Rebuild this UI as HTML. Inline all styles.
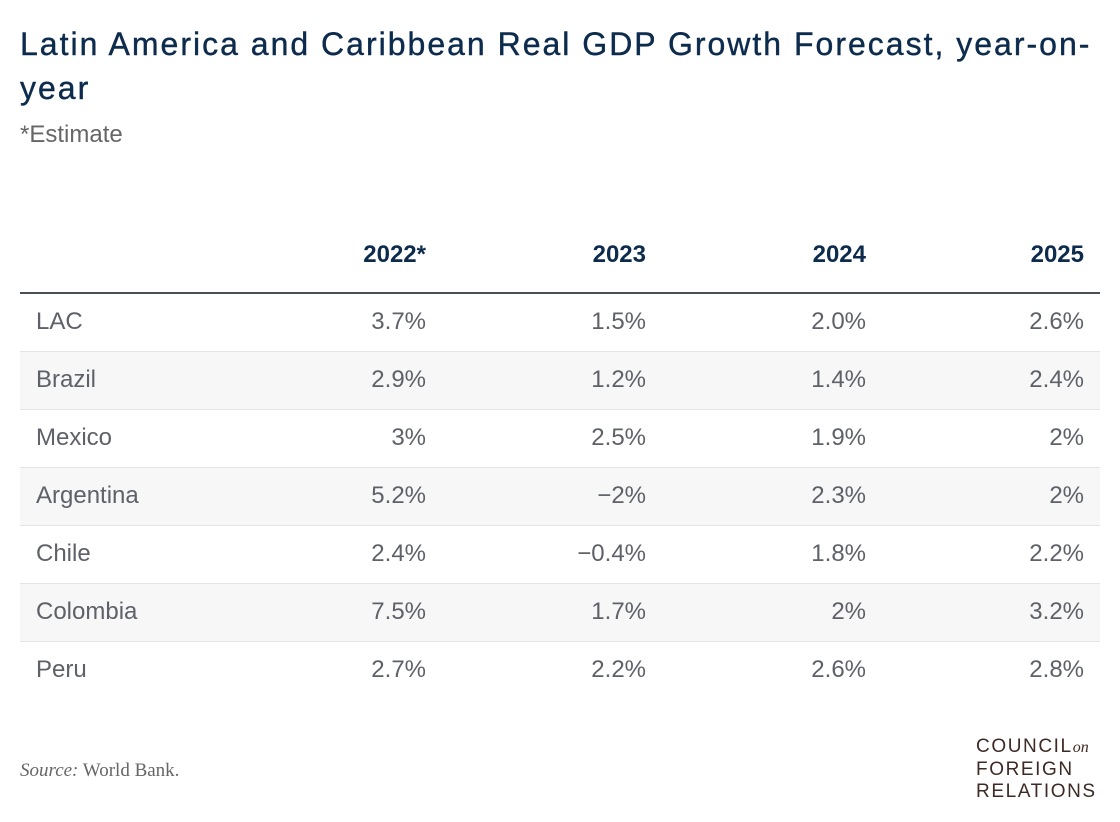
<!DOCTYPE html>
<html><head><meta charset="utf-8"><style>
body{margin:0;width:1120px;height:822px;background:#fff;font-family:"Liberation Sans",sans-serif;position:relative;overflow:hidden}
.t{position:absolute;left:20px;top:22px;font-size:32px;line-height:44px;color:#0d2b4c;letter-spacing:2px;width:1100px;white-space:nowrap;-webkit-text-stroke:0.4px #0d2b4c}
.s{position:absolute;left:20px;top:121px;font-size:24px;color:#666}
.h{position:absolute;top:241px;font-size:24px;font-weight:bold;color:#0d2b4c;text-align:right;width:150px}
.line{position:absolute;left:20px;width:1080px;top:292px;height:2px;background:#4a4f55}
.r{position:absolute;left:20px;width:1080px;height:57px;border-bottom:1px solid #e4e4e4;font-size:24px;color:#5e6168}
.r span{position:absolute;top:14px}
.r .n{left:16px}
.r .v{text-align:right;width:150px}
.src{position:absolute;left:20px;top:760px;font-family:"Liberation Serif",serif;font-size:19px;color:#666}
.logo{position:absolute;left:976px;top:736px;font-size:19px;line-height:22px;letter-spacing:1.6px;color:#3d2a26}
</style></head><body>
<div class="t">Latin America and Caribbean Real GDP Growth Forecast, year-on-<br>year</div>
<div class="s">*Estimate</div>
<div class="h" style="left:276px">2022*</div>
<div class="h" style="left:496px">2023</div>
<div class="h" style="left:716px">2024</div>
<div class="h" style="left:934px">2025</div>
<div class="line"></div>
<div class="r" style="top:294px"><span class="n">LAC</span><span class="v" style="left:256px">3.7%</span><span class="v" style="left:476px">1.5%</span><span class="v" style="left:696px">2.0%</span><span class="v" style="left:914px">2.6%</span></div>
<div class="r" style="top:352px;background:#f7f7f7"><span class="n">Brazil</span><span class="v" style="left:256px">2.9%</span><span class="v" style="left:476px">1.2%</span><span class="v" style="left:696px">1.4%</span><span class="v" style="left:914px">2.4%</span></div>
<div class="r" style="top:410px"><span class="n">Mexico</span><span class="v" style="left:256px">3%</span><span class="v" style="left:476px">2.5%</span><span class="v" style="left:696px">1.9%</span><span class="v" style="left:914px">2%</span></div>
<div class="r" style="top:468px;background:#f7f7f7"><span class="n">Argentina</span><span class="v" style="left:256px">5.2%</span><span class="v" style="left:476px">−2%</span><span class="v" style="left:696px">2.3%</span><span class="v" style="left:914px">2%</span></div>
<div class="r" style="top:526px"><span class="n">Chile</span><span class="v" style="left:256px">2.4%</span><span class="v" style="left:476px">−0.4%</span><span class="v" style="left:696px">1.8%</span><span class="v" style="left:914px">2.2%</span></div>
<div class="r" style="top:584px;background:#f7f7f7"><span class="n">Colombia</span><span class="v" style="left:256px">7.5%</span><span class="v" style="left:476px">1.7%</span><span class="v" style="left:696px">2%</span><span class="v" style="left:914px">3.2%</span></div>
<div class="r" style="top:642px;border-bottom:none"><span class="n">Peru</span><span class="v" style="left:256px">2.7%</span><span class="v" style="left:476px">2.2%</span><span class="v" style="left:696px">2.6%</span><span class="v" style="left:914px">2.8%</span></div>
<div class="src"><i>Source:</i> World Bank.</div>
<div class="logo">COUNCIL<i style="font-family:'Liberation Serif',serif;font-size:16px;letter-spacing:0">on</i><br>FOREIGN<br>RELATIONS</div>
</body></html>
